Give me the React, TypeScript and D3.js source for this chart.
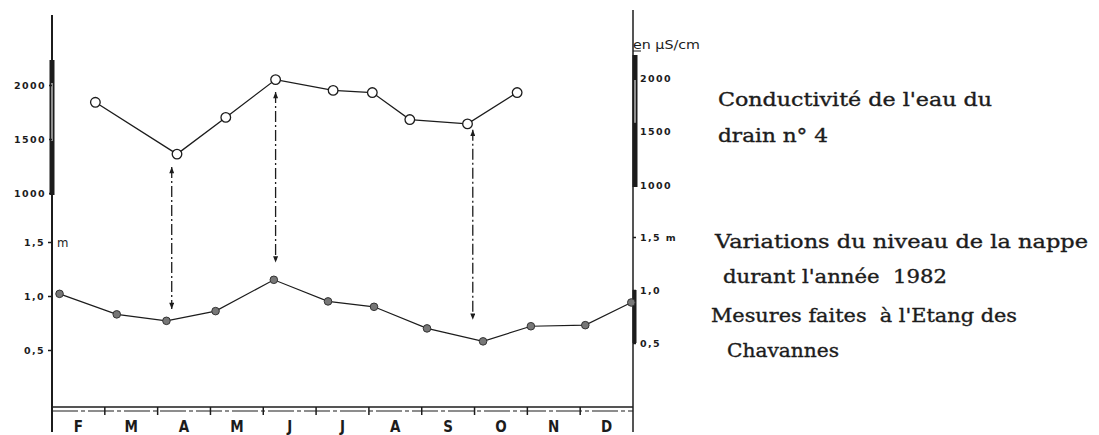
import React, { useEffect, useRef } from 'react';
import * as d3 from 'd3';

// months of the hydrological record, Feb -> Dec 1982
const months = ['F', 'M', 'A', 'M', 'J', 'J', 'A', 'S', 'O', 'N', 'D'];

// conductivity of drain n° 4 (µS/cm)
const condDates = ['1982-02-24', '1982-04-12', '1982-05-10', '1982-06-08', '1982-07-11', '1982-08-03', '1982-08-25', '1982-09-27', '1982-10-26'];
const condValues = [1840, 1360, 1700, 2050, 1950, 1930, 1680, 1640, 1930];

// water table level (m)
const levelDates = ['1982-02-05', '1982-03-08', '1982-04-06', '1982-05-04', '1982-06-07', '1982-07-08', '1982-08-04', '1982-09-04', '1982-10-06', '1982-11-03', '1982-12-04', '1982-12-31'];
const levelValues = [1.02, 0.83, 0.77, 0.86, 1.15, 0.95, 0.9, 0.7, 0.58, 0.72, 0.73, 0.94];

// dash-dot arrows linking the two curves
const arrowDates = ['1982-04-09', '1982-06-08', '1982-09-30'];
const arrowTop = [1240, 1935, 1585];
const arrowBottom = [0.88, 1.31, 0.78];

const condTicks = [1000, 1500, 2000];
const levelTicks = [0.5, 1.0, 1.5];

const legendLines = [
  { text: 'Conductivité de l\'eau du', x: 718, y: 106, len: 274 },
  { text: 'drain n° 4', x: 718, y: 142, len: 110 },
  { text: 'Variations du niveau de la nappe', x: 715, y: 248, len: 373 },
  { text: 'durant l\'année  1982', x: 723, y: 283, len: 224 },
  { text: 'Mesures faites  à l\'Etang des', x: 711, y: 322, len: 306 },
  { text: 'Chavannes', x: 727, y: 357, len: 112 }
];

const W = 1099;
const H = 435;
const INK = '#1c1c1c';

const parse = d3.timeParse('%Y-%m-%d');
// position in months since 1 Feb (each month drawn with equal width)
const monthPos = (s: string) => {
  const d = parse(s) as Date;
  const m0 = d3.timeMonth.floor(d);
  const m1 = d3.timeMonth.offset(m0, 1);
  return d.getMonth() - 1 + (+d - +m0) / (+m1 - +m0);
};

const App: React.FC = () => {
  const svgRef = useRef<SVGSVGElement>(null);

  useEffect(() => {
    if (!svgRef.current) return;
    const svg = d3.select(svgRef.current);
    svg.selectAll('*').remove();

    const left = 52;
    const right = 633;
    const x = d3.scaleLinear().domain([0, months.length]).range([left, right]);
    const condY = d3.scaleLinear().domain([1000, 2000]).range([193, 85]);
    const condYRight = d3.scaleLinear().domain([1000, 2000]).range([185, 78]);
    const levelY = d3.scaleLinear().domain([0.5, 1.5]).range([350, 242]);
    const levelYRight = d3.scaleLinear().domain([0.5, 1.5]).range([343, 237]);
    const comma = (v: number) => v.toFixed(1).replace('.', ',');

    // arrow marker
    const defs = svg.append('defs');
    ['up', 'down'].forEach(dir => {
      defs.append('marker')
        .attr('id', 'arr-' + dir)
        .attr('viewBox', '0 0 8 10')
        .attr('refX', 4)
        .attr('refY', dir === 'up' ? 0 : 10)
        .attr('markerWidth', 5)
        .attr('markerHeight', 7)
        .attr('markerUnits', 'userSpaceOnUse')
        .append('path')
        .attr('d', dir === 'up' ? 'M0,10 L4,0 L8,10 Z' : 'M0,0 L4,10 L8,0 Z')
        .attr('fill', INK);
    });

    // vertical axes
    svg.append('line').attr('x1', left).attr('x2', left).attr('y1', 15).attr('y2', 432)
      .attr('stroke', INK).attr('stroke-width', 2);
    svg.append('line').attr('x1', right).attr('x2', right).attr('y1', 10).attr('y2', 432)
      .attr('stroke', INK).attr('stroke-width', 1.5);

    // bold scale bars on the axes
    svg.append('rect').attr('x', left - 2.5).attr('y', 60).attr('width', 5).attr('height', 135).attr('fill', INK);
    svg.append('rect').attr('x', left - 0.5).attr('y', condY(2000) - 2).attr('width', 1).attr('height', condY(1500) - condY(2000) + 4).attr('fill', '#fff');
    svg.append('rect').attr('x', right - 0.5).attr('y', 55).attr('width', 5).attr('height', 132).attr('fill', INK);
    svg.append('rect').attr('x', right + 1.5).attr('y', condYRight(2000) + 2).attr('width', 1).attr('height', condYRight(1600) - condYRight(2000)).attr('fill', '#fff');
    svg.append('rect').attr('x', right - 0.5).attr('y', levelYRight(1.0)).attr('width', 4).attr('height', levelYRight(0.5) - levelYRight(1.0)).attr('fill', INK);

    const axisStyle = (g: d3.Selection<SVGGElement, unknown, null, undefined>, size: number) => {
      g.select('.domain').remove();
      g.selectAll('line').attr('stroke', INK).attr('stroke-width', 1.5);
      g.selectAll('text')
        .attr('fill', INK)
        .style('font-family', '"DejaVu Sans", sans-serif')
        .style('font-weight', 'bold')
        .style('font-size', size + 'px')
        .style('letter-spacing', '1.4px');
    };

    svg.append('g').attr('transform', `translate(${left},0)`)
      .call(d3.axisLeft(condY).tickValues(condTicks).tickSize(3).tickPadding(3).tickFormat(d => String(d)))
      .call(g => axisStyle(g, 9.5));
    svg.append('g').attr('transform', `translate(${left},0)`)
      .call(d3.axisLeft(levelY).tickValues(levelTicks).tickSize(4).tickPadding(3).tickFormat(d => comma(+d)))
      .call(g => axisStyle(g, 9.5));
    svg.append('g').attr('transform', `translate(${right},0)`)
      .call(d3.axisRight(condYRight).tickValues(condTicks).tickSize(3).tickPadding(4).tickFormat(d => String(d)))
      .call(g => axisStyle(g, 9.5));
    svg.append('g').attr('transform', `translate(${right},0)`)
      .call(d3.axisRight(levelYRight).tickValues(levelTicks).tickSize(3).tickPadding(4)
        .tickFormat(d => comma(+d) + (+d === 1.5 ? ' m' : '')))
      .call(g => axisStyle(g, 9.5));

    // unit labels
    svg.append('text').attr('x', left + 5).attr('y', levelY(1.5) + 4.5)
      .attr('fill', INK).style('font-family', '"DejaVu Sans Condensed", sans-serif')
      .style('font-size', '13px').text('m');
    svg.append('text').attr('x', right).attr('y', 49)
      .attr('fill', INK).style('font-family', '"DejaVu Sans", sans-serif')
      .style('font-size', '12px').attr('textLength', 67).attr('lengthAdjust', 'spacingAndGlyphs')
      .text('en µS/cm');
    svg.append('line').attr('x1', right).attr('x2', right + 8).attr('y1', 51).attr('y2', 51)
      .attr('stroke', INK).attr('stroke-width', 1);

    // base double line with month ticks
    const base = 407;
    svg.append('line').attr('x1', left).attr('x2', right).attr('y1', base).attr('y2', base)
      .attr('stroke', INK).attr('stroke-width', 1.3);
    svg.append('line').attr('x1', left).attr('x2', right).attr('y1', base + 4).attr('y2', base + 4)
      .attr('stroke', INK).attr('stroke-width', 1.2).attr('stroke-dasharray', '26,3,4,3');
    svg.append('g').selectAll('line')
      .data(d3.range(1, months.length))
      .enter().append('line')
      .attr('x1', d => x(d)).attr('x2', d => x(d))
      .attr('y1', base).attr('y2', base + 8)
      .attr('stroke', INK).attr('stroke-width', 1.5);
    svg.append('g').selectAll('text')
      .data(months)
      .enter().append('text')
      .attr('x', (d, i) => x(i + 0.5))
      .attr('y', 432)
      .attr('text-anchor', 'middle')
      .attr('fill', INK)
      .style('font-family', '"DejaVu Sans Condensed", sans-serif')
      .style('font-size', '15px')
      .style('font-weight', 'bold')
      .text(d => d);

    // arrows
    svg.append('g').selectAll('line')
      .data(arrowDates)
      .enter().append('line')
      .attr('x1', d => x(monthPos(d))).attr('x2', d => x(monthPos(d)))
      .attr('y1', (d, i) => condY(arrowTop[i]))
      .attr('y2', (d, i) => levelY(arrowBottom[i]))
      .attr('stroke', INK)
      .attr('stroke-width', 1.3)
      .attr('stroke-dasharray', '11,3,2,3')
      .attr('marker-start', 'url(#arr-up)')
      .attr('marker-end', 'url(#arr-down)');

    // conductivity curve
    const condPts = condDates.map((d, i) => [x(monthPos(d)), condY(condValues[i])] as [number, number]);
    svg.append('path')
      .attr('d', d3.line()(condPts))
      .attr('fill', 'none').attr('stroke', INK).attr('stroke-width', 1.3);
    svg.append('g').selectAll('circle')
      .data(condPts)
      .enter().append('circle')
      .attr('cx', d => d[0]).attr('cy', d => d[1]).attr('r', 4.8)
      .attr('fill', '#fff').attr('stroke', INK).attr('stroke-width', 1.3);

    // water level curve
    const levelPts = levelDates.map((d, i) => [x(monthPos(d)), levelY(levelValues[i])] as [number, number]);
    svg.append('path')
      .attr('d', d3.line()(levelPts))
      .attr('fill', 'none').attr('stroke', INK).attr('stroke-width', 1.2);
    svg.append('g').selectAll('circle')
      .data(levelPts)
      .enter().append('circle')
      .attr('cx', d => d[0]).attr('cy', d => d[1]).attr('r', 3.8)
      .attr('fill', '#777').attr('stroke', '#333').attr('stroke-width', 1);

    // legend text
    svg.append('g').selectAll('text')
      .data(legendLines)
      .enter().append('text')
      .attr('x', d => d.x)
      .attr('y', d => d.y)
      .attr('textLength', d => d.len)
      .attr('lengthAdjust', 'spacingAndGlyphs')
      .attr('fill', INK)
      .attr('stroke', INK)
      .attr('stroke-width', 0.35)
      .style('font-family', '"DejaVu Serif", serif')
      .style('font-size', '18px')
      .style('white-space', 'pre')
      .text(d => d.text);
  }, []);

  return (
    <svg
      ref={svgRef}
      width={W}
      height={H}
      style={{ position: 'absolute', left: 0, top: 0, background: '#fff' }}
    />
  );
};

export default App;
